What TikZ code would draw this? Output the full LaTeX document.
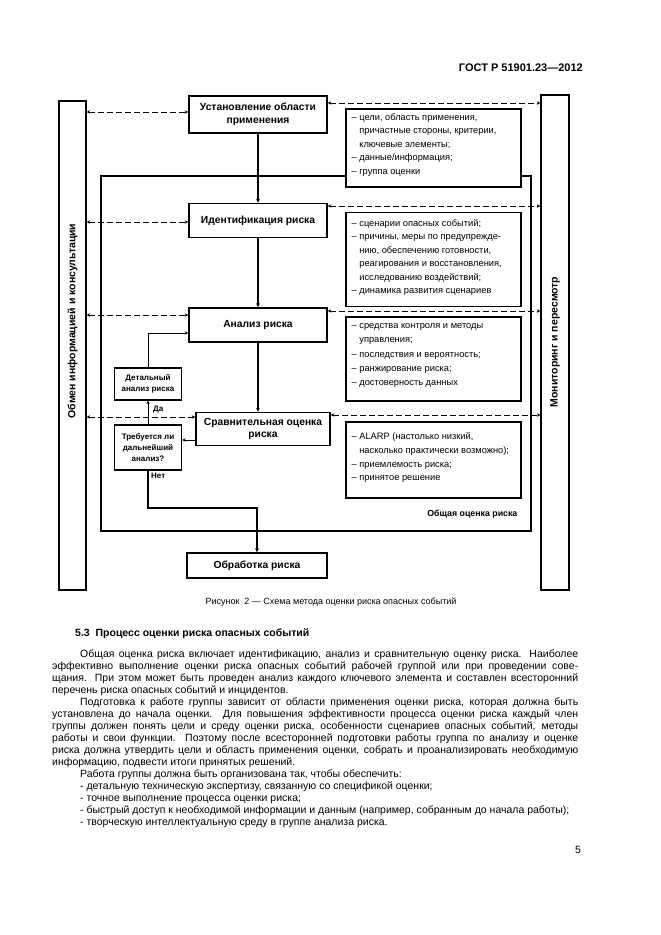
\documentclass[tikz,border=0pt]{standalone}
\usepackage{fontspec}
\setmainfont{Liberation Sans}
\usetikzlibrary{arrows.meta,calc}
\tikzset{
  mainbox/.style={draw, line width=1.6pt, fill=white, inner sep=1pt, align=center, font=\bfseries\fontsize{10.3}{12.5}\selectfont},
  smallbox/.style={draw, line width=1.2pt, fill=white, inner sep=1pt, align=center, font=\bfseries\fontsize{8}{11}\selectfont},
  infobox/.style={draw, line width=1.2pt, fill=white},
  infotext/.style={align=left, inner sep=0pt, anchor=north west, font=\fontsize{9.3}{13.5}\selectfont},
  barbox/.style={draw, line width=1.2pt, fill=white},
  bartext/.style={rotate=90, inner sep=0pt, font=\bfseries\fontsize{10.5}{12}\selectfont},
  dasharrow/.style={line width=0.9pt, dash pattern=on 6pt off 3pt, {Stealth[length=3.5pt,width=3.5pt]}-{Stealth[length=3.5pt,width=3.5pt]}},
  flow/.style={line width=1.6pt, -{Stealth[length=4pt,width=4pt]}},
  thinflow/.style={line width=1pt, -{Stealth[length=3.5pt,width=3.5pt]}},
  lbl/.style={inner sep=0pt, font=\bfseries\fontsize{8}{10}\selectfont},
  bodyline/.style={anchor=base west, inner sep=0pt, font=\fontsize{10.5}{12}\selectfont}
}
\begin{document}
\begin{tikzpicture}[x=1pt,y=-1pt]
\useasboundingbox (0,0) rectangle (661,935);
\fill[white] (0,0) rectangle (661,935);

% header
\node[anchor=east, inner sep=0pt, font=\bfseries\fontsize{11}{12}\selectfont] (hdr) at (583,68) {ГОСТ Р 51901.23—2012};

% frame and bars
\node[draw, line width=1.2pt, minimum width=430pt, minimum height=355pt] (frame) at (316,353.5) {};
\node[barbox, minimum width=27pt, minimum height=489pt] (lbar) at (72.5,345.5) {};
\node[barbox, minimum width=28pt, minimum height=495pt] (rbar) at (555,342.5) {};
\node[bartext] (ltext) at (72.5,321) {Обмен информацией и консультации};
\node[bartext] (rtext) at (555,342) {Мониторинг и пересмотр};

% info boxes
\node[infobox, minimum width=175pt, minimum height=78pt] (i1) at (433.5,148) {};
\node[infobox, minimum width=175pt, minimum height=94pt] (i2) at (433.5,259.5) {};
\node[infobox, minimum width=175pt, minimum height=84pt] (i3) at (433.5,359) {};
\node[infobox, minimum width=175pt, minimum height=76pt] (i4) at (433.5,460) {};

\node[infotext] (t1) at ($(i1.north west)+(6,5)$) {– цели, область применения,\\\phantom{– }причастные стороны, критерии,\\\phantom{– }ключевые элементы;\\– данные/информация;\\– группа оценки};
\node[infotext] (t2) at ($(i2.north west)+(6,7)$) {– сценарии опасных событий;\\– причины, меры по предупрежде-\\\phantom{– }нию, обеспечению готовности,\\\phantom{– }реагирования и восстановления,\\\phantom{– }исследованию воздействий;\\– динамика развития сценариев};
\node[infotext, font=\fontsize{9.3}{14.2}\selectfont] (t3) at ($(i3.north west)+(6,7)$) {– средства контроля и методы\\\phantom{– }управления;\\– последствия и вероятность;\\– ранжирование риска;\\– достоверность данных};
\node[infotext, font=\fontsize{9.3}{13.8}\selectfont] (t4) at ($(i4.north west)+(6,11)$) {– ALARP (настолько низкий,\\\phantom{– }насколько практически возможно);\\– приемлемость риска;\\– принятое решение};

% main boxes
\node[mainbox, minimum width=138pt, minimum height=37pt] (b1) at (258,114.5) {Установление области\\применения};
\node[mainbox, minimum width=138pt, minimum height=34pt] (b2) at (258,220.5) {Идентификация риска};
\node[mainbox, minimum width=138pt, minimum height=34pt] (b3) at (258,325) {Анализ риска};
\node[mainbox, minimum width=134pt, minimum height=33pt] (b4) at (263,429) {Сравнительная оценка\\риска};
\node[mainbox, minimum width=140pt, minimum height=25pt] (b5) at (257,565.5) {Обработка риска};
\node[smallbox, minimum width=67pt, minimum height=32pt] (det) at (148,384) {Детальный\\анализ риска};
\node[smallbox, minimum width=67pt, minimum height=45pt] (dec) at (148,447.5) {Требуется ли\\дальнейший\\анализ?};

\node[anchor=base east, inner sep=0pt, font=\bfseries\fontsize{8.8}{10}\selectfont] (flabel) at ($(frame.south east)+(-14,-15)$) {Общая оценка риска};

% level coordinates
\coordinate (yL1) at (0,112);
\coordinate (yR1) at (0,103);
\coordinate (yL2) at (0,222);
\coordinate (yR2) at (0,206);
\coordinate (yL3) at (0,315);
\coordinate (yR3) at (0,311);
\coordinate (yL4) at (0,417);
\coordinate (yR4) at (0,415);
\coordinate (yD) at (0,333);
\coordinate (yA) at (0,440);
\coordinate (yT) at (0,508);

% dashed exchanges
\draw[dasharrow] (lbar.east |- yL1) -- (b1.west |- yL1);
\draw[dasharrow] (b1.east |- yR1) -- (rbar.west |- yR1);
\draw[dasharrow] (lbar.east |- yL2) -- (b2.west |- yL2);
\draw[dasharrow] (b2.east |- yR2) -- (rbar.west |- yR2);
\draw[dasharrow] (lbar.east |- yL3) -- (b3.west |- yL3);
\draw[dasharrow] (b3.east |- yR3) -- (rbar.west |- yR3);
\draw[dasharrow] (lbar.east |- yL4) -- (b4.west |- yL4);
\draw[dasharrow] (b4.east |- yR4) -- (rbar.west |- yR4);

% flow
\draw[flow] (b1.south) -- (b2.north);
\draw[flow] (b2.south) -- (b3.north);
\draw[flow] (b3.south) -- (b3.south |- b4.north);
\draw[thinflow] (det.north) |- (b3.west |- yD);
\draw[thinflow] (dec.north) -- (det.south);
\draw[thinflow] (b4.west |- yA) -- (dec.east |- yA);
\draw[flow] (dec.south) -- (dec.south |- yT) -| (b5.north);
\node[lbl, anchor=west] (da) at (153,410) {Да};
\node[lbl, anchor=west] (net) at (151,476) {Нет};

% caption and text
\node[inner sep=0pt, font=\fontsize{9}{11}\selectfont] (cap) at (331,602) {Рисунок\ \ 2 — Схема метода оценки риска опасных событий};
\node[anchor=west, inner sep=0pt, font=\bfseries\fontsize{10.5}{12}\selectfont] (h53) at (75,634) {5.3\ \ Процесс оценки риска опасных событий};

\node[bodyline] (l1) at (80,657) {\makebox[498pt][s]{Общая оценка риска включает идентификацию, анализ и сравнительную оценку риска. Наиболее}};
\node[bodyline] (l2) at (52,669) {\makebox[526pt][s]{эффективно выполнение оценки риска опасных событий рабочей группой или при проведении сове-}};
\node[bodyline] (l3) at (52,681) {\makebox[526pt][s]{щания. При этом может быть проведен анализ каждого ключевого элемента и составлен всесторонний}};
\node[bodyline] (l4) at (52,693) {перечень риска опасных событий и инцидентов.};
\node[bodyline] (l5) at (80,705) {\makebox[498pt][s]{Подготовка к работе группы зависит от области применения оценки риска, которая должна быть}};
\node[bodyline] (l6) at (52,717) {\makebox[526pt][s]{установлена до начала оценки. Для повышения эффективности процесса оценки риска каждый член}};
\node[bodyline] (l7) at (52,729) {\makebox[526pt][s]{группы должен понять цели и среду оценки риска, особенности сценариев опасных событий, методы}};
\node[bodyline] (l8) at (52,741) {\makebox[526pt][s]{работы и свои функции. Поэтому после всесторонней подготовки работы группа по анализу и оценке}};
\node[bodyline] (l9) at (52,753) {\makebox[526pt][s]{риска должна утвердить цели и область применения оценки, собрать и проанализировать необходимую}};
\node[bodyline] (l10) at (52,765) {информацию, подвести итоги принятых решений.};
\node[bodyline] (l11) at (80,777) {Работа группы должна быть организована так, чтобы обеспечить:};
\node[bodyline] (l12) at (80,789) {- детальную техническую экспертизу, связанную со спецификой оценки;};
\node[bodyline] (l13) at (80,801) {- точное выполнение процесса оценки риска;};
\node[bodyline] (l14) at (80,813) {- быстрый доступ к необходимой информации и данным (например, собранным до начала работы);};
\node[bodyline] (l15) at (80,825) {- творческую интеллектуальную среду в группе анализа риска.};

\node[inner sep=0pt, font=\fontsize{10.5}{12}\selectfont] (pg) at (578,850) {5};
\end{tikzpicture}
\end{document}
